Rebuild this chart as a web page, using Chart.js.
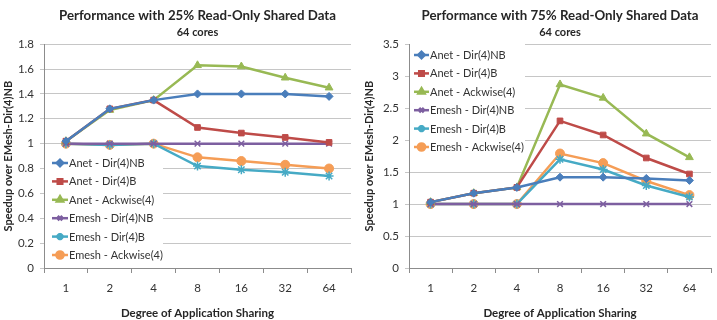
<!DOCTYPE html>
<html>
<head>
<meta charset="utf-8">
<script src="https://cdn.jsdelivr.net/npm/chart.js@4/dist/chart.umd.min.js"></script>
<style>
  html, body { margin: 0; padding: 0; background: #fff; }
  #wrap { position: relative; width: 717px; height: 320px; overflow: hidden; }
  #c1 { position: absolute; left: 0; top: 0; }
  #c2 { position: absolute; left: 357px; top: 0; }
</style>
</head>
<body>
<div id="wrap">
  <canvas id="c1" width="357" height="320"></canvas>
  <canvas id="c2" width="360" height="320"></canvas>
</div>
<script>
// ---------- data ----------
const categories = ['1', '2', '4', '8', '16', '32', '64'];
const seriesNames = ['Anet - Dir(4)NB', 'Anet - Dir(4)B', 'Anet - Ackwise(4)',
                     'Emesh - Dir(4)NB', 'Emesh - Dir(4)B', 'Emesh - Ackwise(4)'];

const leftTitle = 'Performance with 25% Read-Only Shared Data';
const rightTitle = 'Performance with 75% Read-Only Shared Data';
const subTitle = '64 cores';
const xTitle = 'Degree of Application Sharing';
const yTitle = 'Speedup over EMesh-Dir(4)NB';

// 25% read-only shared data
const left_anetDirNB   = [1.02, 1.28, 1.35, 1.40, 1.40, 1.40, 1.38];
const left_anetDirB    = [1.02, 1.28, 1.35, 1.13, 1.085, 1.05, 1.01];
const left_anetAck     = [1.02, 1.27, 1.35, 1.63, 1.62, 1.53, 1.45];
const left_emeshDirNB  = [1.00, 1.00, 1.00, 1.00, 1.00, 1.00, 1.00];
const left_emeshDirB   = [1.00, 0.99, 1.00, 0.82, 0.79, 0.77, 0.74];
const left_emeshAck    = [1.00, 0.99, 1.00, 0.89, 0.86, 0.83, 0.80];

// 75% read-only shared data
const right_anetDirNB  = [1.03, 1.17, 1.26, 1.42, 1.42, 1.40, 1.37];
const right_anetDirB   = [1.03, 1.17, 1.26, 2.30, 2.08, 1.72, 1.47];
const right_anetAck    = [1.03, 1.17, 1.26, 2.87, 2.66, 2.10, 1.73];
const right_emeshDirNB = [1.00, 1.00, 1.00, 1.00, 1.00, 1.00, 1.00];
const right_emeshDirB  = [1.00, 1.00, 1.00, 1.70, 1.54, 1.29, 1.11];
const right_emeshAck   = [1.00, 1.00, 1.00, 1.79, 1.64, 1.36, 1.14];

const leftTicks = { min: 0, max: 1.8, step: 0.2 };
const rightTicks = { min: 0, max: 3.5, step: 0.5 };

// ---------- styles ----------
const colors = ['#4A7EBB', '#BE4B48', '#98B954', '#7D5FA0', '#46AAC5', '#F59D56'];
const pointStyles = ['rectRot', 'rect', 'triangle', 'crossRot', 'star', 'circle'];
const pointRadii = [4, 4, 4.5, 4, 4.5, 4.5];
const FONT = 'Lato, "Open Sans", sans-serif';

function makeDatasets(arrays) {
  return arrays.map((arr, i) => ({
    label: seriesNames[i],
    data: arr,
    borderColor: colors[i],
    backgroundColor: colors[i],
    pointBackgroundColor: colors[i],
    pointBorderColor: colors[i],
    pointStyle: pointStyles[i],
    pointRadius: pointRadii[i],
    pointBorderWidth: (pointStyles[i] === 'crossRot' || pointStyles[i] === 'star') ? 1.5 : 1,
    borderWidth: 2.5,
    tension: 0,
    fill: false
  }));
}

const inLegendPlugin = {
  id: 'inLegend',
  beforeDatasetsDraw(chart, args, opts) {
    const ctx = chart.ctx;
    ctx.save();
    ctx.fillStyle = '#ffffff';
    ctx.fillRect(opts.box[0], opts.box[1], opts.box[2] - opts.box[0], opts.box[3] - opts.box[1]);
    ctx.restore();
  },
  afterDraw(chart, args, opts) {
    const ctx = chart.ctx;
    ctx.save();
    chart.data.datasets.forEach((ds, i) => {
      const y = opts.y + i * opts.rowH;
      ctx.strokeStyle = ds.borderColor;
      ctx.lineWidth = 2.5;
      ctx.beginPath();
      ctx.moveTo(opts.x, y);
      ctx.lineTo(opts.x + opts.lineLen, y);
      ctx.stroke();
      ctx.fillStyle = ds.pointBackgroundColor;
      ctx.strokeStyle = ds.pointBorderColor;
      Chart.helpers.drawPoint(ctx, {
        pointStyle: ds.pointStyle,
        radius: ds.pointRadius * 0.8,
        rotation: 0,
        borderWidth: ds.pointBorderWidth
      }, opts.x + opts.lineLen / 2, y);
      ctx.fillStyle = '#333333';
      ctx.font = '11px ' + FONT;
      ctx.textBaseline = 'middle';
      ctx.textAlign = 'left';
      ctx.fillText(ds.label, opts.x + opts.lineLen + 1, y + 0.5);
    });
    ctx.restore();
  }
};

function makeChart(canvasId, title, arrays, ticks, yWidth, rightPad, yTitlePad, legendOpts) {
  return new Chart(document.getElementById(canvasId), {
    type: 'line',
    data: { labels: categories, datasets: makeDatasets(arrays) },
    plugins: [inLegendPlugin],
    options: {
      responsive: false,
      animation: false,
      events: [],
      layout: { padding: { left: 0, right: rightPad, top: 0, bottom: 0 } },
      plugins: {
        legend: { display: false },
        tooltip: { enabled: false },
        title: {
          display: true, text: title, fullSize: false, color: '#262626',
          font: { family: FONT, size: 13.3, weight: 'bold' },
          padding: { top: 8, bottom: 0 }
        },
        subtitle: {
          display: true, text: subTitle, fullSize: false, color: '#262626',
          font: { family: FONT, size: 11, weight: 'bold' },
          padding: { top: 2, bottom: 5 }
        },
        inLegend: legendOpts
      },
      scales: {
        x: {
          type: 'category',
          offset: true,
          grid: { display: true, offset: true, drawOnChartArea: false, drawTicks: true, tickLength: 5, color: '#8c8c8c' },
          border: { display: true, color: '#8c8c8c', width: 1 },
          ticks: { color: '#333333', font: { family: FONT, size: 11.5 }, padding: 8, maxRotation: 0 },
          title: { display: true, text: xTitle, color: '#262626', font: { family: FONT, size: 11.5, weight: 'bold' }, padding: { top: 4, bottom: 0 } },
          afterFit(s) { s.height = 52; }
        },
        y: {
          min: ticks.min, max: ticks.max,
          grid: { color: '#c6c6c6', lineWidth: 1, drawTicks: true, tickLength: 4 },
          border: { display: true, color: '#8c8c8c', width: 1 },
          ticks: {
            stepSize: ticks.step, color: '#333333', font: { family: FONT, size: 11.5 }, padding: 6,
            callback: (v) => String(Math.round(v * 100) / 100)
          },
          title: { display: true, text: yTitle, color: '#262626', font: { family: FONT, size: 11, weight: 'bold' }, padding: { top: yTitlePad, bottom: 0 } },
          afterFit(s) { s.width = yWidth; }
        }
      }
    }
  });
}

makeChart('c1', leftTitle,
  [left_anetDirNB, left_anetDirB, left_anetAck, left_emeshDirNB, left_emeshDirB, left_emeshAck],
  leftTicks, 44, 5, 2,
  { box: [45, 153, 163, 266], x: 52, y: 163, rowH: 18.4, lineLen: 16 });

makeChart('c2', rightTitle,
  [right_anetDirNB, right_anetDirB, right_anetAck, right_emeshDirNB, right_emeshDirB, right_emeshAck],
  rightTicks, 52, 2, 6,
  { box: [53, 44, 168, 157], x: 57, y: 55, rowH: 18.4, lineLen: 15 });
</script>
</body>
</html>
